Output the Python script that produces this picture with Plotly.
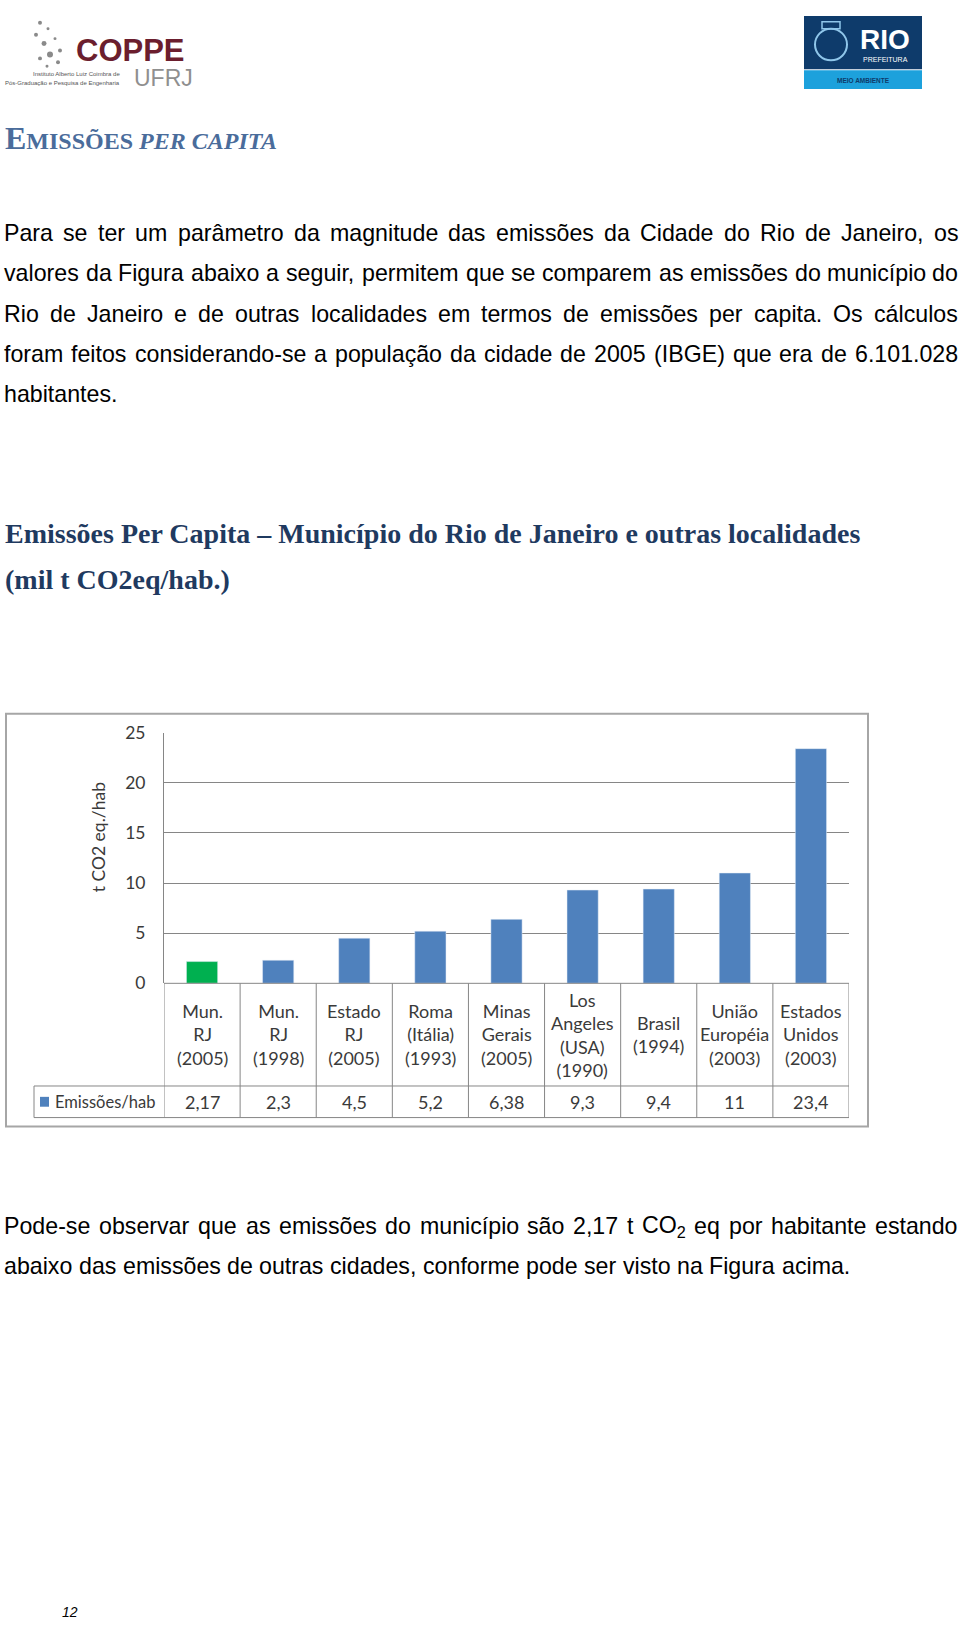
import re
import unicodedata
import plotly.graph_objects as go

# ---- chart data ----
categories = [
    "Mun.<br>RJ<br>(2005)",
    "Mun.<br>RJ<br>(1998)",
    "Estado<br>RJ<br>(2005)",
    "Roma<br>(Itália)<br>(1993)",
    "Minas<br>Gerais<br>(2005)",
    "Los<br>Angeles<br>(USA)<br>(1990)",
    "Brasil<br>(1994)",
    "União<br>Européia<br>(2003)",
    "Estados<br>Unidos<br>(2003)",
]
emissions = [2.17, 2.3, 4.5, 5.2, 6.38, 9.3, 9.4, 11, 23.4]
bar_colors = ["#00B050"] + ["#4F81BD"] * 8
series_name = "Emissões/hab"
y_ticks = [0, 5, 10, 15, 20, 25]

# ---- page text ----
section_title = 'E<span style="font-size:24px">MISSÕES <i>PER CAPITA</i></span>'
intro_lines = [
    "Para se ter um parâmetro da magnitude das emissões da Cidade do Rio de Janeiro, os",
    "valores da Figura abaixo a seguir, permitem que se comparem as emissões do município do",
    "Rio de Janeiro e de outras localidades em termos de emissões per capita. Os cálculos",
    "foram feitos considerando-se a população da cidade de 2005 (IBGE) que era de 6.101.028",
    "habitantes.",
]
chart_title = ["Emissões Per Capita – Município do Rio de Janeiro e outras localidades",
               "(mil t CO2eq/hab.)"]
closing_lines = [
    "Pode-se observar que as emissões do município são 2,17 t CO<sub>2</sub> eq por habitante estando",
    "abaixo das emissões de outras cidades, conforme pode ser visto na Figura acima.",
]

W, H = 960, 1632


def X(px):
    return px / W


def Y(py):
    return 1 - py / H


# Arial / Liberation Sans advance widths (1/1000 em)
AW = {" ": 278, "!": 278, "(": 333, ")": 333, ",": 278, "-": 333, ".": 278, "/": 278, ":": 278,
      "A": 667, "B": 667, "C": 722, "D": 722, "E": 667, "F": 611, "G": 778, "H": 722, "I": 278,
      "J": 500, "K": 667, "L": 556, "M": 833, "N": 722, "O": 778, "P": 667, "Q": 778, "R": 722,
      "S": 667, "T": 611, "U": 722, "V": 667, "W": 944, "X": 667, "Y": 667, "Z": 611,
      "a": 556, "b": 556, "c": 500, "d": 556, "e": 556, "f": 278, "g": 556, "h": 556, "i": 222,
      "j": 222, "k": 500, "l": 222, "m": 833, "n": 556, "o": 556, "p": 556, "q": 556, "r": 333,
      "s": 500, "t": 278, "u": 556, "v": 500, "w": 722, "x": 500, "y": 500, "z": 500}


def word_width(word, size):
    total, scale = 0, 1.0
    for part in re.split(r"(<sub>|</sub>)", word):
        if part == "<sub>":
            scale = 0.7
            continue
        if part == "</sub>":
            scale = 1.0
            continue
        for ch in part:
            total += AW.get(unicodedata.normalize("NFD", ch)[0], 556) * scale
    return total * size / 1000


BODY_FONT = dict(family="Liberation Sans, Arial", size=23.2, color="#000000")
annotations = []


def add_line(text, py, justify, x0=3, x1=957):
    size = BODY_FONT["size"]
    words = text.split(" ")
    widths = [word_width(w, size) for w in words]
    if justify and len(words) > 1:
        gap = (x1 - x0 - sum(widths)) / (len(words) - 1)
    else:
        gap = AW[" "] * size / 1000
    x = x0
    for w, ww in zip(words, widths):
        annotations.append(dict(text=w, x=X(x), y=Y(py), xref="paper", yref="paper",
                                xanchor="left", yanchor="middle", showarrow=False,
                                font=BODY_FONT, borderpad=0))
        x += ww + gap


for i, line in enumerate(intro_lines):
    add_line(line, 225 + i * 40.8, justify=i < len(intro_lines) - 1)
for i, line in enumerate(closing_lines):
    add_line(line, 1231 + i * 40, justify=i == 0)

fig = go.Figure()
fig.add_trace(go.Bar(x=list(range(len(emissions))), y=emissions, marker_color=bar_colors,
                     width=0.41, name=series_name, showlegend=False))

grey = "#868686"
txt = "#3a3a3a"
chart_font = "Lato, Calibri, sans-serif"

fig.update_layout(
    width=W, height=H, margin=dict(l=0, r=0, t=0, b=0),
    paper_bgcolor="white", plot_bgcolor="white",
    xaxis=dict(domain=[X(164), X(849)], range=[-0.5, len(emissions) - 0.5],
               showticklabels=False, showgrid=False, zeroline=False, fixedrange=True),
    yaxis=dict(domain=[Y(985), Y(731)], range=[0, 25], tickvals=y_ticks,
               showgrid=True, gridcolor=grey, gridwidth=1, zeroline=False,
               showline=True, linecolor=grey, linewidth=1, ticks="",
               ticklabelstandoff=14, tickfont=dict(family=chart_font, size=17.5, color=txt)),
    showlegend=False,
)

# section heading
annotations.append(dict(text="<b>" + section_title + "</b>", x=X(3), y=Y(129),
                        xref="paper", yref="paper", xanchor="left", yanchor="middle",
                        showarrow=False, font=dict(family="Liberation Serif, serif", size=32,
                                                   color="#4A6C9B")))
# chart heading
for i, line in enumerate(chart_title):
    annotations.append(dict(text="<b>" + line + "</b>", x=X(3), y=Y(529 + i * 47),
                            xref="paper", yref="paper", xanchor="left", yanchor="middle",
                            showarrow=False, font=dict(family="Liberation Serif, serif", size=28,
                                                       color="#1F3A60")))

# y axis title
annotations.append(dict(text="t CO2 eq./hab", x=X(98), y=Y(837), xref="paper", yref="paper",
                        xanchor="center", yanchor="middle", textangle=-90, showarrow=False,
                        font=dict(family=chart_font, size=17.5, color=txt)))

# data table: category labels and values
table_font = dict(family=chart_font, size=18, color=txt)
for i, (cat, v) in enumerate(zip(categories, emissions)):
    annotations.append(dict(text=cat, x=i, y=Y(1037), xref="x", yref="paper",
                            xanchor="center", yanchor="middle", showarrow=False, align="center",
                            font=table_font))
    annotations.append(dict(text=f"{v:g}".replace(".", ","), x=i, y=Y(1105), xref="x",
                            yref="paper", xanchor="center", yanchor="middle", showarrow=False,
                            font=table_font))
annotations.append(dict(text=series_name, x=X(53), y=Y(1105), xref="paper", yref="paper",
                        xanchor="left", yanchor="middle", showarrow=False,
                        font=dict(family=chart_font, size=16.5, color=txt)))

shapes = []
line = dict(color=grey, width=1)
# outer chart frame
shapes.append(dict(type="rect", xref="paper", yref="paper", x0=X(6), x1=X(868),
                   y0=Y(1130), y1=Y(712), line=dict(color="#a6a6a6", width=2)))
# table lines
for i in range(len(emissions) + 1):
    shapes.append(dict(type="line", xref="x", yref="paper", x0=i - 0.5, x1=i - 0.5,
                       y0=Y(1121), y1=Y(985), line=line))
for py in (1089, 1121):
    shapes.append(dict(type="line", xref="paper", yref="paper", x0=X(34), x1=X(849),
                       y0=Y(py), y1=Y(py), line=line))
shapes.append(dict(type="line", xref="paper", yref="paper", x0=X(164), x1=X(849),
                   y0=Y(985), y1=Y(985), line=line))
shapes.append(dict(type="line", xref="paper", yref="paper", x0=X(34), x1=X(34),
                   y0=Y(1121), y1=Y(1089), line=line))
# legend key
shapes.append(dict(type="rect", xref="paper", yref="paper", x0=X(40), x1=X(49),
                   y0=Y(1110), y1=Y(1100), fillcolor="#4F81BD", line=dict(width=0)))

# ---- header logos ----
# COPPE / UFRJ
annotations.append(dict(text="<b>COPPE</b>", x=X(74), y=Y(40), xref="paper", yref="paper",
                        xanchor="left", yanchor="middle", showarrow=False,
                        font=dict(family="Liberation Sans, Arial", size=31, color="#6B1E2E")))
annotations.append(dict(text="UFRJ", x=X(132), y=Y(68), xref="paper", yref="paper",
                        xanchor="left", yanchor="middle", showarrow=False,
                        font=dict(family="Liberation Sans, Arial", size=23, color="#8f8f8f")))
annotations.append(dict(text="Instituto Alberto Luiz Coimbra de", x=X(122), y=Y(64),
                        xref="paper", yref="paper", xanchor="right", yanchor="middle",
                        showarrow=False, font=dict(family="Liberation Sans, Arial", size=6,
                                                   color="#555")))
annotations.append(dict(text="Pós-Graduação e Pesquisa de Engenharia", x=X(122), y=Y(73),
                        xref="paper", yref="paper", xanchor="right", yanchor="middle",
                        showarrow=False, font=dict(family="Liberation Sans, Arial", size=6,
                                                   color="#555")))
# speckled emblem of the COPPE logo
for cx, cy, r in [(40, 12, 2), (48, 18, 1.5), (36, 24, 2), (55, 28, 1.5), (44, 33, 2.5),
                  (60, 40, 2), (50, 44, 3), (40, 48, 2), (58, 52, 2), (47, 56, 1.5)]:
    shapes.append(dict(type="circle", xref="paper", yref="paper", x0=X(cx - r), x1=X(cx + r),
                       y0=Y(cy + r), y1=Y(cy - r), fillcolor="#8a8a8a", line=dict(width=0)))

# RIO Prefeitura
shapes.append(dict(type="rect", xref="paper", yref="paper", x0=X(804), x1=X(922),
                   y0=Y(59), y1=Y(5), fillcolor="#0E3B6B", line=dict(width=0)))
shapes.append(dict(type="rect", xref="paper", yref="paper", x0=X(804), x1=X(922),
                   y0=Y(79), y1=Y(60), fillcolor="#1DA1DC", line=dict(width=0)))
shapes.append(dict(type="circle", xref="paper", yref="paper", x0=X(815), x1=X(847),
                   y0=Y(50), y1=Y(18), line=dict(color="#8fc6ea", width=2)))
shapes.append(dict(type="rect", xref="paper", yref="paper", x0=X(822), x1=X(840),
                   y0=Y(18), y1=Y(11), line=dict(color="#8fc6ea", width=1.5)))
annotations.append(dict(text="<b>RIO</b>", x=X(885), y=Y(29), xref="paper", yref="paper",
                        xanchor="center", yanchor="middle", showarrow=False,
                        font=dict(family="Liberation Sans, Arial", size=28, color="white")))
annotations.append(dict(text="PREFEITURA", x=X(885), y=Y(49), xref="paper", yref="paper",
                        xanchor="center", yanchor="middle", showarrow=False,
                        font=dict(family="Liberation Sans, Arial", size=7, color="white")))
annotations.append(dict(text="<b>MEIO AMBIENTE</b>", x=X(863), y=Y(70), xref="paper",
                        yref="paper", xanchor="center", yanchor="middle", showarrow=False,
                        font=dict(family="Liberation Sans, Arial", size=6.5, color="#0E3B6B")))

# page number
annotations.append(dict(text="<i>12</i>", x=X(70), y=Y(1622), xref="paper", yref="paper",
                        xanchor="center", yanchor="middle", showarrow=False,
                        font=dict(family="Liberation Sans, Arial", size=14, color="#000")))

fig.update_layout(annotations=annotations, shapes=shapes)
fig.write_html("out.html", config=dict(displayModeBar=False),
               post_script="document.body.style.margin='0';document.body.style.overflow='hidden';")
